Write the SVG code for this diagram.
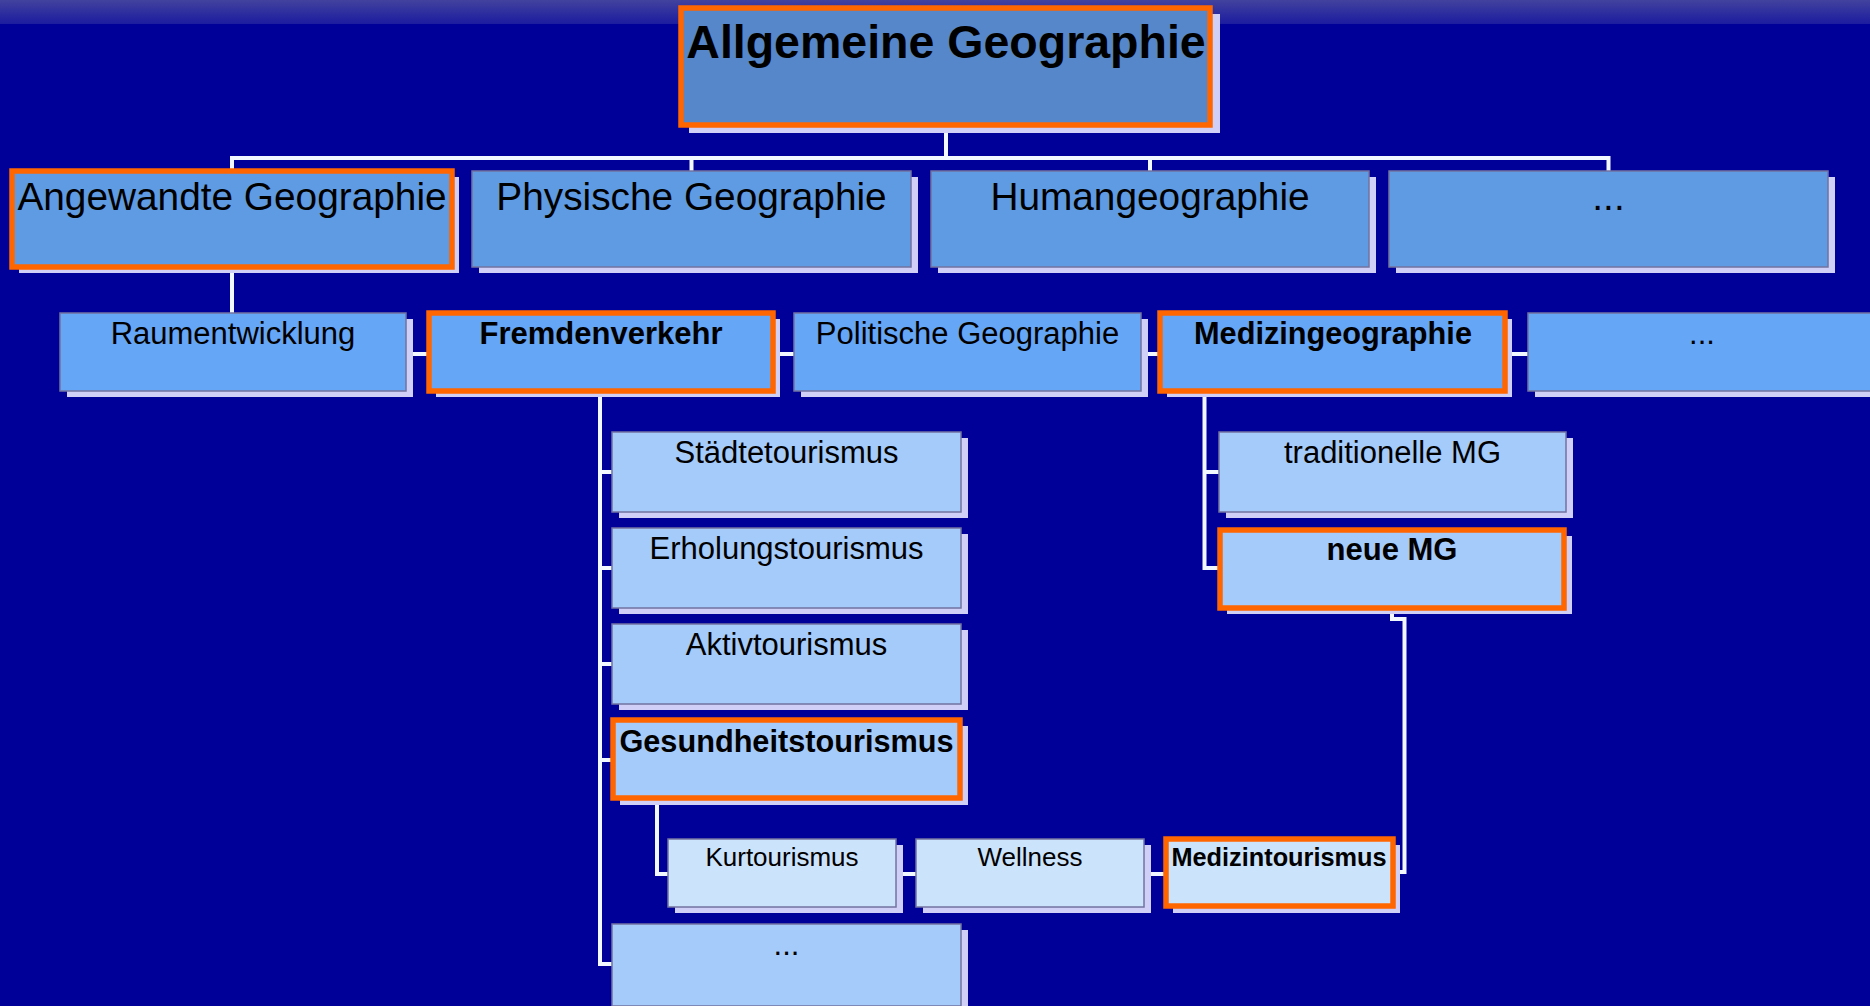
<svg xmlns="http://www.w3.org/2000/svg" width="1870" height="1006" viewBox="0 0 1870 1006">
<defs>
<linearGradient id="band" x1="0" y1="0" x2="0" y2="1">
<stop offset="0" stop-color="#42429E"/>
<stop offset="1" stop-color="#1C1CA0"/>
</linearGradient>
<style>
.sh{fill:#CFCFF7}
.bx{stroke:#7373A0;stroke-width:1.5}
.hl{stroke:#FF6600;stroke-width:5.5}
.l0{fill:#5587CA}
.l1{fill:#5F9BE3}
.l2{fill:#66A6F7}
.l3{fill:#A5CBFB}
.l4{fill:#CCE3FC}
.t{font-family:"Liberation Sans",Arial,sans-serif;fill:#000;text-anchor:middle}
.b{font-weight:bold}
.s46{font-size:46.5px}
.s38{font-size:38.8px}
.s31{font-size:31px}
.s30{font-size:30.7px}
.s26{font-size:26px}
.s24{font-size:25.3px}
.cn{stroke:#F2F8FF;stroke-width:4;fill:none}
</style>
</defs>
<rect x="0" y="0" width="1870" height="1006" fill="#000099"/>
<rect x="0" y="0" width="1870" height="24" fill="url(#band)"/>

<g id="connectors">
<path class="cn" d="M946 128V158M232 171V158H1608.5V171M691.5 158V171M1150 158V171"/>
<path class="cn" d="M232 267V313M232 354H1702"/>
<path class="cn" d="M600 391V964H612M600 472H612M600 568H612M600 664H612M600 760H612"/>
<path class="cn" d="M657 798V874H1166"/>
<path class="cn" d="M1204.5 391V568H1220M1204.5 472H1219"/>
<path class="cn" d="M1392 608V619H1404.5V872H1394"/>
</g>

<g id="n-allgemeine">
<rect class="sh" x="689" y="14" width="531" height="119"/>
<rect class="l0 hl" x="681" y="8" width="529" height="117"/>
<text class="t b s46" x="946" y="58">Allgemeine Geographie</text>
</g>

<g id="n-angewandte">
<rect class="sh" x="19" y="177" width="440" height="96"/>
<rect class="l1 hl" x="12" y="171" width="440" height="96"/>
<text class="t s38" x="232" y="210">Angewandte Geographie</text>
</g>
<g id="n-physische">
<rect class="sh" x="479" y="177" width="439" height="96"/>
<rect class="l1 bx" x="472" y="171" width="439" height="96"/>
<text class="t s38" x="691.5" y="210">Physische Geographie</text>
</g>
<g id="n-human">
<rect class="sh" x="938" y="177" width="438" height="96"/>
<rect class="l1 bx" x="931" y="171" width="438" height="96"/>
<text class="t s38" x="1150" y="210">Humangeographie</text>
</g>
<g id="n-l1-more">
<rect class="sh" x="1396" y="177" width="439" height="96"/>
<rect class="l1 bx" x="1389" y="171" width="439" height="96"/>
<text class="t s38" x="1608.5" y="210">...</text>
</g>

<g id="n-raument">
<rect class="sh" x="67" y="319" width="346" height="78"/>
<rect class="l2 bx" x="60" y="313" width="346" height="78"/>
<text class="t s31" x="233" y="344">Raumentwicklung</text>
</g>
<g id="n-fremden">
<rect class="sh" x="436" y="319" width="344" height="78"/>
<rect class="l2 hl" x="429" y="313" width="344" height="78"/>
<text class="t b s31" x="601" y="344">Fremdenverkehr</text>
</g>
<g id="n-politische">
<rect class="sh" x="801" y="319" width="347" height="78"/>
<rect class="l2 bx" x="794" y="313" width="347" height="78"/>
<text class="t s31" x="967.5" y="344">Politische Geographie</text>
</g>
<g id="n-medgeo">
<rect class="sh" x="1167" y="319" width="345" height="78"/>
<rect class="l2 hl" x="1160" y="313" width="345" height="78"/>
<text class="t b s30" x="1333" y="344">Medizingeographie</text>
</g>
<g id="n-l2-more">
<rect class="sh" x="1535" y="319" width="348" height="78"/>
<rect class="l2 bx" x="1528" y="313" width="348" height="78"/>
<text class="t s31" x="1702" y="344">...</text>
</g>

<g id="n-staedte">
<rect class="sh" x="619" y="438" width="349" height="80"/>
<rect class="l3 bx" x="612" y="432" width="349" height="80"/>
<text class="t s31" x="786.5" y="463">Städtetourismus</text>
</g>
<g id="n-erholung">
<rect class="sh" x="619" y="534" width="349" height="80"/>
<rect class="l3 bx" x="612" y="528" width="349" height="80"/>
<text class="t s31" x="786.5" y="559">Erholungstourismus</text>
</g>
<g id="n-aktiv">
<rect class="sh" x="619" y="630" width="349" height="80"/>
<rect class="l3 bx" x="612" y="624" width="349" height="80"/>
<text class="t s31" x="786.5" y="655">Aktivtourismus</text>
</g>
<g id="n-gesundheit">
<rect class="sh" x="620" y="726" width="348" height="79"/>
<rect class="l3 hl" x="613" y="720" width="347" height="78"/>
<text class="t b s30" x="786.5" y="752">Gesundheitstourismus</text>
</g>
<g id="n-l3-more">
<rect class="sh" x="619" y="930" width="349" height="82"/>
<rect class="l3 bx" x="612" y="924" width="349" height="82"/>
<text class="t s31" x="786.5" y="955">...</text>
</g>

<g id="n-kur">
<rect class="sh" x="675" y="845" width="228" height="68"/>
<rect class="l4 bx" x="668" y="839" width="228" height="68"/>
<text class="t s26" x="782" y="866">Kurtourismus</text>
</g>
<g id="n-wellness">
<rect class="sh" x="923" y="845" width="228" height="68"/>
<rect class="l4 bx" x="916" y="839" width="228" height="68"/>
<text class="t s26" x="1030" y="866">Wellness</text>
</g>
<g id="n-medtour">
<rect class="sh" x="1173" y="845" width="227" height="68"/>
<rect class="l4 hl" x="1166" y="839" width="227" height="67"/>
<text class="t b s24" x="1279" y="866">Medizintourismus</text>
</g>

<g id="n-tradmg">
<rect class="sh" x="1226" y="438" width="347" height="80"/>
<rect class="l3 bx" x="1219" y="432" width="347" height="80"/>
<text class="t s31" x="1392.5" y="463">traditionelle MG</text>
</g>
<g id="n-neuemg">
<rect class="sh" x="1227" y="536" width="345" height="78"/>
<rect class="l3 hl" x="1220" y="530" width="344" height="78"/>
<text class="t b s31" x="1392" y="560">neue MG</text>
</g>
</svg>
